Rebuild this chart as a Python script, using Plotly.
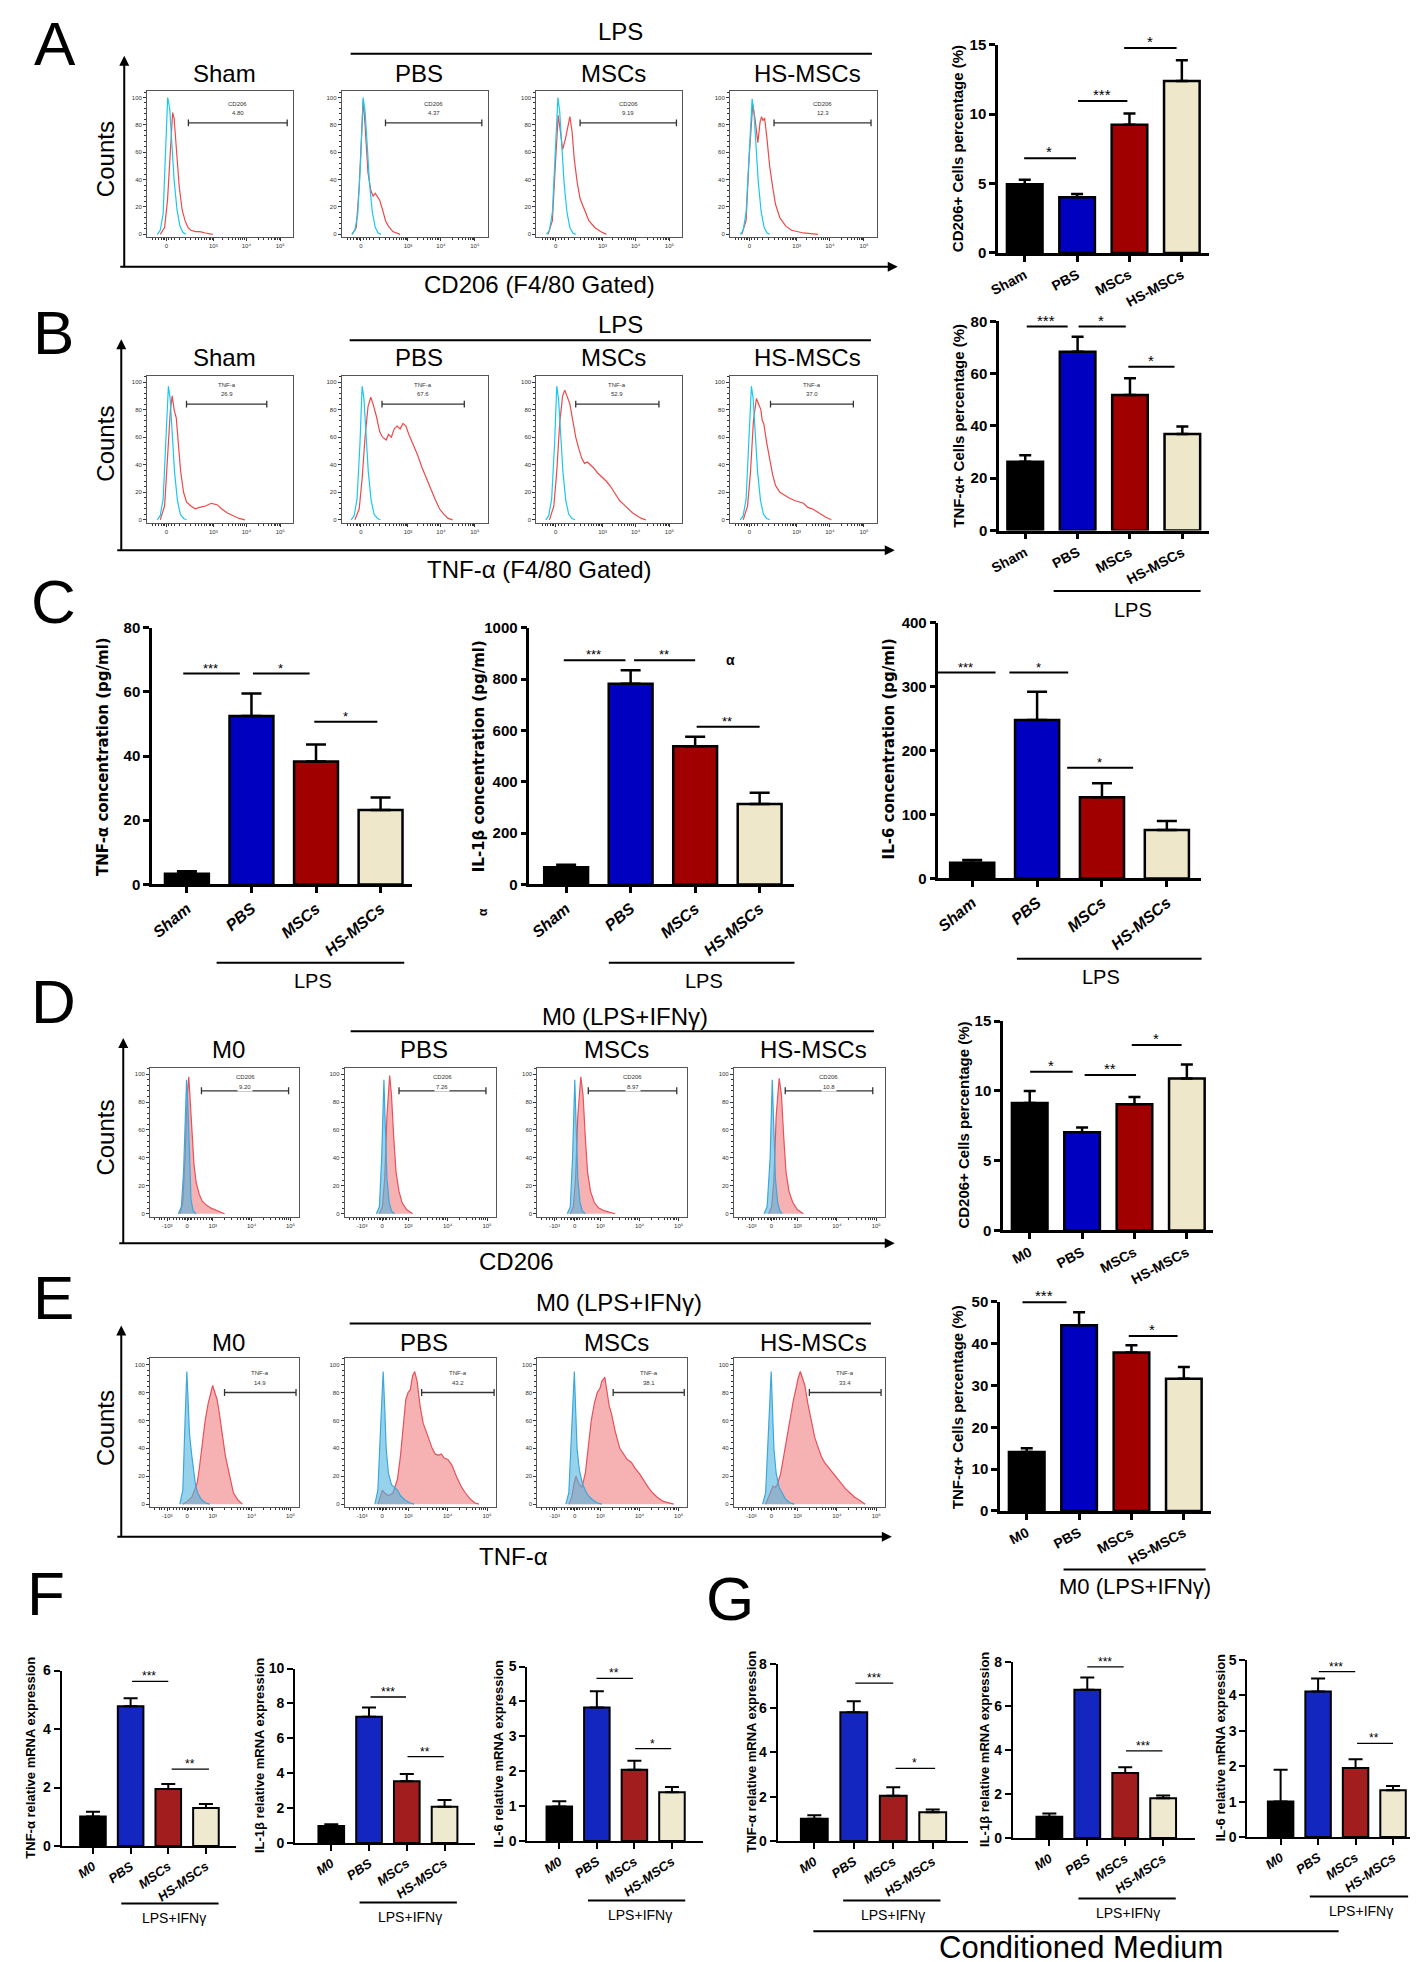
import plotly.graph_objects as go

W, H = 1418, 1962
FONT = "Liberation Sans, Arial, sans-serif"

# ---------------- bar chart data ----------------
LPS_GROUPS = ["Sham", "PBS", "MSCs", "HS-MSCs"]
M0_GROUPS = ["M0", "PBS", "MSCs", "HS-MSCs"]

# sig entries: (x start, x end, y, label) in category units / data units
a_pct = [4.95, 4.02, 9.24, 12.38]
a_err = [0.33, 0.22, 0.81, 1.50]
a_sig = [(-0.04, 0.98, 6.83, "*"), (0.99, 1.96, 10.95, "***"), (1.87, 2.9, 14.76, "*")]

b_pct = [26.3, 68.4, 51.8, 36.9]
b_err = [2.5, 5.7, 6.4, 2.9]
b_sig = [(0.0, 0.81, 78.0, "***"), (0.99, 1.92, 78.0, "*"), (1.94, 2.85, 62.6, "*")]

c_tnf = [3.3, 52.5, 38.3, 23.2]
c_tnf_err = [0.8, 7.0, 5.3, 3.9]
c_tnf_sig = [(-0.08, 0.82, 65.7, "***"), (1.0, 1.9, 65.7, "*"), (1.95, 2.95, 50.7, "*")]

c_il1b = [67, 782, 538, 313]
c_il1b_err = [10, 52, 37, 44]
c_il1b_sig = [(-0.06, 0.92, 873, "***"), (1.03, 2.0, 873, "**"), (2.0, 3.0, 614, "**")]

c_il6 = [24.7, 248, 127, 76]
c_il6_err = [4.2, 44, 22, 14]
c_il6_sig = [(-0.58, 0.36, 322, "***"), (0.55, 1.48, 322, "*"), (1.44, 2.48, 173, "*")]

d_pct = [9.14, 7.03, 9.05, 10.9]
d_err = [0.86, 0.35, 0.52, 1.0]
d_sig = [(-0.02, 0.82, 11.38, "*"), (1.02, 2.03, 11.14, "**"), (1.92, 2.9, 13.3, "*")]

e_pct = [14.1, 44.4, 37.9, 31.6]
e_err = [0.9, 3.1, 1.7, 2.8]
e_sig = [(-0.11, 0.76, 49.9, "***"), (0.97, 1.95, 50.3, "*"), (1.92, 2.88, 41.8, "*")]

f_tnf = [1.01, 4.78, 1.95, 1.30]
f_tnf_err = [0.16, 0.27, 0.17, 0.14]
f_tnf_sig = [(1.0, 2.0, 5.63, "***"), (2.05, 3.08, 2.63, "**")]
f_il1b = [0.98, 7.24, 3.54, 2.08]
f_il1b_err = [0.10, 0.53, 0.41, 0.38]
f_il1b_sig = [(1.0, 1.98, 8.37, "***"), (1.98, 2.98, 4.95, "**")]
f_il6 = [0.99, 3.83, 2.04, 1.40]
f_il6_err = [0.15, 0.46, 0.26, 0.15]
f_il6_sig = [(0.95, 1.96, 4.66, "**"), (1.98, 2.98, 2.65, "*")]

g_tnf = [1.01, 5.81, 2.04, 1.30]
g_tnf_err = [0.15, 0.49, 0.39, 0.12]
g_tnf_sig = [(1.0, 2.0, 7.12, "***"), (2.02, 3.06, 3.28, "*")]
g_il1b = [0.97, 6.73, 2.95, 1.81]
g_il1b_err = [0.14, 0.55, 0.26, 0.12]
g_il1b_sig = [(0.96, 1.96, 7.76, "***"), (1.98, 2.98, 3.95, "***")]
g_il6 = [1.00, 4.10, 1.95, 1.32]
g_il6_err = [0.90, 0.37, 0.24, 0.12]
g_il6_sig = [(0.98, 1.99, 4.66, "***"), (2.0, 3.0, 2.64, "**")]

BAR_COLORS = ["#000000", "#0000C0", "#A00000", "#EEE7CA"]
BAR_COLORS_FG = ["#000000", "#1426C0", "#A21E1E", "#EEE9CF"]

# ---------------- flow histogram data (x in display units 0-100, y in % of max) ----------------
A_SHAM_BLUE = [(7, 0), (9, 3), (11, 15), (12.5, 55), (14.1, 100), (15.5, 92), (17, 68), (18.5, 40), (20.5, 18), (22.5, 6), (24.5, 1.5), (26.5, 0)]
A_SHAM_RED = [(9, 0), (12, 5), (14, 25), (16, 65), (17.5, 89), (18.5, 85), (20, 65), (22, 35), (24, 18), (26, 10), (28, 5), (30, 3), (33, 2), (36, 2), (40, 1), (45, 0)]
A_PBS_BLUE = [(7, 0), (9, 3), (11, 15), (13, 55), (14.7, 100), (16, 90), (17.5, 65), (19, 38), (21, 16), (23, 5), (25, 1), (27, 0)]
A_PBS_RED = [(7, 0), (10, 5), (12, 35), (14, 88), (14.7, 98), (16, 80), (18, 45), (20, 32), (21.5, 28), (23, 30), (24.5, 27), (26, 25), (28, 18), (30, 10), (32, 6), (35, 2), (40, 0)]
A_MSC_BLUE = [(7, 0), (9, 3), (11, 16), (13, 58), (14.8, 100), (16, 90), (17.5, 66), (19, 38), (21, 16), (23, 5), (25, 1), (27, 0)]
A_MSC_RED = [(8, 0), (11, 10), (13, 50), (15, 87), (16.5, 75), (18, 62), (20, 70), (22, 82), (23, 86), (24.5, 75), (26, 55), (28, 38), (30, 26), (33, 18), (36, 10), (40, 5), (44, 2), (48, 0)]
A_HS_BLUE = [(7, 0), (9, 3), (11, 16), (13, 58), (15.1, 99), (16.3, 90), (17.8, 66), (19.3, 38), (21.3, 16), (23.3, 5), (25.3, 1), (27, 0)]
A_HS_RED = [(8, 0), (11, 10), (13, 55), (15.5, 95), (17, 85), (19, 67), (20.5, 82), (21.5, 86), (22.5, 83), (23.6, 85), (25, 72), (27, 50), (29, 35), (31, 22), (34, 12), (38, 6), (42, 3), (50, 1), (60, 0)]

B_SHAM_BLUE = [(7, 0), (9, 3), (11, 15), (13, 55), (14.6, 97), (15.8, 88), (17.3, 62), (18.8, 35), (20.8, 14), (22.8, 4), (25, 1), (27, 0)]
B_SHAM_RED = [(9, 0), (12, 10), (14, 45), (16, 80), (17.2, 90), (18.5, 80), (20, 74), (21.5, 55), (23, 35), (25, 20), (27, 13), (30, 10), (33, 8), (36, 9), (40, 10), (44, 12), (48, 11), (51, 8), (55, 5), (59, 3), (63, 1), (67, 0)]
B_PBS_BLUE = [(6.5, 0), (8.5, 3), (10.5, 15), (12.5, 55), (14, 97), (15.2, 88), (16.7, 62), (18.2, 35), (20.2, 14), (22.2, 4), (24.5, 1), (26.5, 0)]
B_PBS_RED = [(9, 0), (12, 8), (14, 30), (16, 60), (18, 82), (19.9, 89), (21.5, 84), (23.8, 75), (26, 64), (28, 60), (30.5, 58), (32, 62), (34, 60), (36, 66), (38, 68), (40, 66), (42, 70), (44, 68), (46, 62), (49, 55), (52, 47), (55, 38), (58, 30), (61, 22), (64, 15), (67, 8), (70, 4), (73, 1), (76, 0)]
B_MSC_BLUE = [(6.5, 0), (8.5, 3), (10.5, 15), (12.5, 55), (14, 97), (15.2, 88), (16.7, 62), (18.2, 35), (20.2, 14), (22.2, 4), (24.5, 1), (26.5, 0)]
B_MSC_RED = [(9, 0), (12, 10), (14, 35), (16, 70), (18, 90), (19.5, 94), (21, 90), (23, 84), (25, 72), (27, 60), (29, 52), (31, 45), (33, 41), (35, 42), (37, 40), (39, 38), (42, 34), (45, 31), (48, 28), (51, 24), (54, 19), (57, 14), (60, 11), (63, 8), (66, 5), (69, 3), (72, 1), (75, 0)]
B_HS_BLUE = [(7, 0), (9, 3), (11, 15), (13, 55), (14.6, 97), (15.8, 88), (17.3, 62), (18.8, 35), (20.8, 14), (22.8, 4), (25, 1), (27, 0)]
B_HS_RED = [(9, 0), (12, 10), (14, 35), (16, 72), (18, 88), (19.5, 84), (21, 80), (22, 72), (23, 70), (25, 56), (27, 45), (29, 33), (31, 25), (34, 20), (37, 18), (40, 16), (44, 14), (47, 13), (50, 12), (53, 9), (56, 8), (59, 6), (62, 4), (65, 2), (69, 0)]

D_M0_BLUE = [(19, 0), (21, 5), (22.5, 30), (23.5, 70), (24.5, 96), (25.5, 75), (26.5, 35), (27.5, 10), (29, 2), (31, 0)]
D_M0_RED = [(20, 0), (22, 8), (23.5, 40), (25, 85), (26, 98), (27, 80), (28, 55), (29.5, 35), (31, 22), (33, 14), (35, 9), (38, 6), (41, 4), (45, 2), (50, 0)]
D_PBS_BLUE = [(21, 0), (23, 5), (24.5, 40), (25.5, 85), (26, 96), (27, 60), (28, 25), (29.5, 8), (31, 2), (33, 0)]
D_PBS_RED = [(23, 0), (25, 5), (26.5, 25), (28, 70), (29.8, 99), (31, 85), (32.5, 55), (34, 30), (36, 16), (38, 8), (41, 3), (45, 0)]
D_MSC_BLUE = [(20, 0), (22, 5), (23.5, 40), (24.5, 85), (25, 96), (26, 60), (27, 25), (28.5, 8), (30, 2), (32, 0)]
D_MSC_RED = [(22, 0), (24, 5), (25.5, 25), (27, 70), (29, 98), (30.5, 85), (32, 55), (33.5, 30), (35.5, 16), (38, 8), (41, 4), (45, 2), (52, 0)]
D_HS_BLUE = [(20, 0), (22, 5), (24, 40), (25, 85), (25.4, 96), (26.5, 60), (27.5, 25), (29, 8), (30.5, 2), (32, 0)]
D_HS_RED = [(23, 0), (25, 5), (26.5, 25), (28, 70), (30, 97), (31.5, 85), (33, 55), (34.5, 30), (36.5, 16), (39, 8), (42, 3), (46, 0)]

E_M0_BLUE = [(20, 0), (22, 10), (23.5, 60), (24.7, 95), (25.5, 75), (26.5, 50), (28, 35), (29.5, 22), (30.5, 14), (32, 8), (34, 4), (37, 1), (40, 0)]
E_M0_RED = [(22, 0), (25, 2), (28, 5), (30, 10), (31.6, 15), (33, 25), (35, 45), (37, 60), (39, 72), (41, 82), (42, 85), (43.5, 80), (45, 75), (46.5, 65), (48.7, 47), (50.5, 35), (52.5, 25), (54.5, 15), (56, 8), (59, 3), (62, 0)]
E_PBS_BLUE = [(20, 0), (22, 10), (24, 60), (25.5, 95), (26.5, 70), (27.5, 40), (29, 22), (31, 14), (33, 12), (35, 10), (37, 6), (40, 3), (43, 1), (46, 0)]
E_PBS_RED = [(22, 0), (23.5, 5), (25, 10), (26.5, 8), (29, 6), (32, 8), (35, 18), (37, 35), (39, 55), (40.5, 75), (42, 80), (43.5, 82), (45, 92), (46.4, 95), (48, 88), (50, 70), (52, 58), (54, 52), (56, 45), (58, 40), (60, 36), (62, 35), (64, 36), (66, 33), (68.4, 32), (71, 28), (74, 20), (77, 13), (80, 8), (83, 4), (86, 1), (89, 0)]
E_MSC_BLUE = [(19, 0), (21, 8), (23, 55), (24.7, 95), (25.5, 70), (26.5, 40), (28, 25), (30, 15), (32, 10), (34, 6), (37, 3), (40, 1), (43, 0)]
E_MSC_RED = [(21, 0), (23, 5), (24.5, 15), (25.8, 20), (27.5, 15), (29.7, 12), (32, 22), (34, 42), (36, 60), (38, 72), (40, 80), (41.8, 83), (43, 88), (45, 91), (46.5, 82), (48, 70), (49.4, 65), (52, 52), (55, 40), (58, 35), (60, 32), (62.7, 30), (65, 26), (68, 22), (71, 17), (74, 12), (77, 8), (80, 5), (84, 2), (87.5, 1), (91, 0)]
E_HS_BLUE = [(19, 0), (21, 8), (23, 55), (24.7, 95), (25.5, 70), (26.5, 40), (28, 22), (30, 12), (32, 8), (34, 4), (37, 1), (40, 0)]
E_HS_RED = [(21, 0), (23, 5), (24.5, 10), (25.9, 13), (27.5, 12), (29, 15), (31, 22), (33.8, 40), (36, 55), (38, 68), (39.5, 75), (41, 82), (42.5, 90), (44, 95), (45.5, 90), (47, 85), (49, 72), (51, 60), (53.5, 48), (56, 40), (58, 34), (60, 30), (63, 26), (66, 22), (68.5, 19), (71.5, 15), (74, 11), (77, 8), (80, 5), (83, 3), (87, 0)]

# gates: (start, end, level, marker name, percent text)
A_GATES = [(28.3, 96, 81.5, "CD206", "4.80"), (30, 96, 81.5, "CD206", "4.37"), (30, 96, 81.5, "CD206", "9.19"), (30, 96, 81.5, "CD206", "12.3")]
B_GATES = [(27, 82, 84, "TNF-a", "26.9"), (27.6, 84, 84, "TNF-a", "67.6"), (27, 84, 84, "TNF-a", "52.9"), (27.6, 84, 84, "TNF-a", "37.0")]
D_GATES = [(34.5, 93, 88, "CD206", "9.20"), (36, 93.6, 88, "CD206", "7.26"), (34, 93, 88, "CD206", "8.97"), (34, 92, 88, "CD206", "10.8")]
E_GATES = [(50, 98, 80, "TNF-a", "14.9"), (51, 99, 80, "TNF-a", "43.2"), (50.6, 98, 80, "TNF-a", "38.1"), (50, 97.5, 80, "TNF-a", "33.4")]

LOG_TICKS = [13.2, 45.4, 68, 91.2]
LOG_TEXT = ["0", "10³", "10⁴", "10⁵"]
LOG_MINOR = [4, 6, 8, 10, 11, 12, 15, 17, 19, 22, 26, 30, 33, 35.5, 37.5, 39.5, 41, 42.5, 43.5, 44.5,
             52, 56, 58.5, 60.5, 62.5, 64, 65.3, 66.6, 76, 80, 83, 85, 87, 88.3, 89.5, 90.5]
BIEX_TICKS = [11.5, 24.9, 42.1, 68.2, 94.3]
BIEX_TEXT = ["-10³", "0", "10³", "10⁴", "10⁵"]
BIEX_MINOR = [3, 6, 8, 10, 13, 16, 18, 20, 22, 23, 24, 26, 27, 28, 30, 32, 34, 36, 38, 40, 41,
              50, 55, 58.5, 61, 63, 64.5, 65.8, 67, 76, 81, 84.5, 87, 89, 90.5, 91.8, 93]
HIST_YTICKS = [0, 20, 40, 60, 80, 100]

fig = go.Figure()
n_axes = [0]


def add_axes(x0, x1, ytop, ybot, xopts, yopts):
    n_axes[0] += 1
    s = "" if n_axes[0] == 1 else str(n_axes[0])
    fig.update_layout({
        "xaxis" + s: dict(domain=[x0 / W, x1 / W], anchor="y" + s, **xopts),
        "yaxis" + s: dict(domain=[1 - ybot / H, 1 - ytop / H], anchor="x" + s, **yopts),
    })
    return "x" + s, "y" + s


def text(x, y, t, size, angle=0, weight="normal", family=FONT, style="normal", color="black", bg=None):
    fig.add_annotation(x=x / W, y=1 - y / H, xref="paper", yref="paper", text=t, showarrow=False,
                       textangle=angle, xanchor="center", yanchor="middle", bgcolor=bg,
                       font=dict(size=size, family=family, weight=weight, style=style, color=color))


def hline(x0, x1, y, width=2):
    fig.add_shape(type="line", xref="paper", yref="paper", x0=x0 / W, x1=x1 / W,
                  y0=1 - y / H, y1=1 - y / H, line=dict(color="black", width=width))


def arrow_axes(x, ytop, ybot, xend):
    fig.add_annotation(x=x / W, y=1 - ytop / H, xref="paper", yref="paper", ax=0, ay=ybot - ytop,
                       showarrow=True, arrowhead=2, arrowsize=1, arrowwidth=2, arrowcolor="black", text="")
    fig.add_annotation(x=xend / W, y=1 - ybot / H, xref="paper", yref="paper", ax=-(xend - x), ay=0,
                       showarrow=True, arrowhead=2, arrowsize=1, arrowwidth=2, arrowcolor="black", text="")


def hist_panel(box, red, blue, gate, biex, filled, value_bg=False):
    x0, x1, ytop, ybot = box
    xo = dict(range=[0, 100], showline=True, mirror=True, linecolor="#555", linewidth=1,
              ticks="outside", ticklen=3, tickcolor="#333", tickvals=BIEX_TICKS if biex else LOG_TICKS,
              ticktext=BIEX_TEXT if biex else LOG_TEXT, tickfont=dict(size=6, family=FONT, color="#333"),
              minor=dict(tickmode="array", tickvals=BIEX_MINOR if biex else LOG_MINOR, ticklen=2, ticks="outside", tickcolor="#333"),
              showgrid=False, zeroline=False)
    yo = dict(range=[-2, 104.5], showline=True, mirror=True, linecolor="#555", linewidth=1,
              ticks="outside", ticklen=3, tickcolor="#333", tickvals=HIST_YTICKS,
              tickfont=dict(size=6, family=FONT, color="#333"),
              minor=dict(dtick=4, ticklen=2, ticks="outside", tickcolor="#333"),
              showgrid=False, zeroline=False)
    xa, ya = add_axes(x0, x1, ytop, ybot, xo, yo)
    if filled:
        styles = [(red, "#E8505A", "rgba(240,125,128,0.6)"), (blue, "#3BA8DC", "rgba(80,180,222,0.6)")]
    else:
        styles = [(red, "#F04848", None), (blue, "#18C8F0", None)]
    for pts, col, fc in styles:
        fig.add_trace(go.Scatter(x=[p[0] for p in pts], y=[p[1] for p in pts], mode="lines",
                                 line=dict(color=col, width=1.2), fill="tozeroy" if fc else "none",
                                 fillcolor=fc, xaxis=xa, yaxis=ya, showlegend=False, hoverinfo="skip"))
    g0, g1, gy, name, val = gate
    fig.add_trace(go.Scatter(x=[g0, g0, g0, g1, g1, g1], y=[gy + 2.5, gy - 2.5, gy, gy, gy + 2.5, gy - 2.5],
                             mode="lines", line=dict(color="#333", width=1.3), xaxis=xa, yaxis=ya,
                             showlegend=False, hoverinfo="skip"))
    gc = (g0 + g1) / 2
    if value_bg:
        fig.add_annotation(x=gc, y=gy + 10, xref=xa, yref=ya, text=name, showarrow=False,
                           font=dict(size=6, family=FONT, color="#333"))
        fig.add_annotation(x=gc, y=gy + 3, xref=xa, yref=ya, text=val, showarrow=False, bgcolor="white",
                           font=dict(size=6, family=FONT, color="#333"))
    else:
        fig.add_annotation(x=gc, y=gy + 14, xref=xa, yref=ya, text=name, showarrow=False,
                           font=dict(size=6, family=FONT, color="#333"))
        fig.add_annotation(x=gc, y=gy + 7, xref=xa, yref=ya, text=val, showarrow=False,
                           font=dict(size=6, family=FONT, color="#333"))


def bar_panel(box, xr, ymax, dtick, labels, vals, errs, sigs, colors, sty):
    x0, x1, ytop, ybot = box
    xo = dict(range=xr, tickvals=[0, 1, 2, 3], ticktext=labels, tickangle=sty["angle"],
              tickfont=dict(size=sty["tsize"], family=FONT, weight="bold", style=sty["tstyle"], color="black"),
              showline=True, linecolor="black", linewidth=sty["lw"], ticks="outside", ticklen=6,
              tickwidth=sty["lw"], tickcolor="black", showgrid=False, zeroline=False)
    yo = dict(range=[0, ymax], dtick=dtick, tick0=0, showline=True, linecolor="black", linewidth=sty["lw"],
              ticks="outside", ticklen=6, tickwidth=sty["lw"], tickcolor="black",
              tickfont=dict(size=sty["ysize"], family=FONT, weight="bold", color="black"),
              showgrid=False, zeroline=False)
    xa, ya = add_axes(x0, x1, ytop, ybot, xo, yo)
    fig.add_trace(go.Bar(x=[0, 1, 2, 3], y=vals, width=0.68, xaxis=xa, yaxis=ya, showlegend=False,
                         marker=dict(color=colors, line=dict(color="black", width=sty["lw"])),
                         error_y=dict(type="data", array=errs, arrayminus=[0, 0, 0, 0], symmetric=False,
                                      color="black", thickness=sty["lw"], width=sty["cap"])))
    for s0, s1, sy, lab in sigs:
        fig.add_annotation(x=s1, y=sy, ax=s0, ay=sy, xref=xa, yref=ya, axref=xa, ayref=ya, text="",
                           showarrow=True, arrowhead=0, arrowwidth=sty["slw"], arrowcolor="black",
                           standoff=0, startstandoff=0)
        fig.add_annotation(x=(s0 + s1) / 2, y=sy, xref=xa, yref=ya, text=lab, showarrow=False,
                           yanchor="bottom", yshift=-4, font=dict(size=sty["ssize"], family=FONT, color="black"))


STY_MAIN = dict(angle=-28, tsize=14, tstyle="normal", ysize=15, lw=2.5, cap=6, slw=2, ssize=15)
STY_C = dict(angle=-40, tsize=16, tstyle="italic", ysize=15, lw=2.5, cap=10, slw=2, ssize=13)
STY_FG = dict(angle=-35, tsize=13, tstyle="italic", ysize=14, lw=2, cap=7, slw=1.3, ssize=12)

# ---------------- panels A, B, D, E histograms ----------------
HBOX_AB = [(130, 277), (326, 473), (522, 669), (717, 865)]
HBOX_DE = [(133, 283), (329, 481), (523, 674), (721, 873)]

for (hx0, hx1), red, blue, gate in zip(HBOX_AB, [A_SHAM_RED, A_PBS_RED, A_MSC_RED, A_HS_RED],
                                         [A_SHAM_BLUE, A_PBS_BLUE, A_MSC_BLUE, A_HS_BLUE], A_GATES):
    hist_panel((hx0, hx1, 75, 222), red, blue, gate, False, False)
for (hx0, hx1), red, blue, gate in zip(HBOX_AB, [B_SHAM_RED, B_PBS_RED, B_MSC_RED, B_HS_RED],
                                         [B_SHAM_BLUE, B_PBS_BLUE, B_MSC_BLUE, B_HS_BLUE], B_GATES):
    hist_panel((hx0, hx1, 362, 510), red, blue, gate, False, False)
for (hx0, hx1), red, blue, gate in zip(HBOX_DE, [D_M0_RED, D_PBS_RED, D_MSC_RED, D_HS_RED],
                                         [D_M0_BLUE, D_PBS_BLUE, D_MSC_BLUE, D_HS_BLUE], D_GATES):
    hist_panel((hx0, hx1, 1060, 1210), red, blue, gate, True, True, value_bg=True)
for (hx0, hx1), red, blue, gate in zip(HBOX_DE, [E_M0_RED, E_PBS_RED, E_MSC_RED, E_HS_RED],
                                         [E_M0_BLUE, E_PBS_BLUE, E_MSC_BLUE, E_HS_BLUE], E_GATES):
    hist_panel((hx0, hx1, 1353, 1503), red, blue, gate, True, True)

for names, boxes, ysub in ((LPS_GROUPS, HBOX_AB, 57), (LPS_GROUPS, HBOX_AB, 343),
                           (M0_GROUPS, HBOX_DE, 1042), (M0_GROUPS, HBOX_DE, 1337)):
    for nm, (hx0, hx1) in zip(names, boxes):
        text((hx0 + hx1) / 2 + 4, ysub, nm, 24)

text(607, 15, "LPS", 24)
hline(335, 860, 37)
text(607, 310, "LPS", 24)
hline(334, 859, 326)
text(611, 1008, "M0 (LPS+IFNγ)", 24)
hline(335, 862, 1023)
text(605, 1297, "M0 (LPS+IFNγ)", 24)
hline(334, 859, 1318)

arrow_axes(107, 39, 252, 886)
arrow_axes(104, 325, 538, 883)
arrow_axes(106, 1030, 1237, 883)
arrow_axes(104, 1320, 1533, 880)
for yc in (143, 430, 1130, 1423):
    text(88, yc, "Counts", 24, angle=-90)
text(525, 270, "CD206 (F4/80 Gated)", 24)
text(525, 557, "TNF-α (F4/80 Gated)", 24)
text(502, 1255, "CD206", 24)
text(499, 1553, "TNF-α", 24)

# ---------------- bar panels ----------------
bar_panel((987, 1199, 28, 238), [-0.51, 3.51], 15, 5, LPS_GROUPS, a_pct, a_err, a_sig, BAR_COLORS, STY_MAIN)
text(947, 133, "CD206+ Cells percentage (%)", 15, angle=-90, weight="bold")

bar_panel((988, 1199, 307, 518), [-0.5, 3.5], 80, 20, LPS_GROUPS, b_pct, b_err, b_sig, BAR_COLORS, STY_MAIN)
text(947, 412, "TNF-α+ Cells percentage (%)", 15, angle=-90, weight="bold")
hline(1043, 1191, 579)
text(1123, 598, "LPS", 20)

bar_panel((135, 397, 616, 875), [-0.54, 3.49], 80, 20, LPS_GROUPS, c_tnf, c_tnf_err, c_tnf_sig, BAR_COLORS, STY_C)
bar_panel((515, 782, 616, 875), [-0.57, 3.54], 1000, 200, LPS_GROUPS, c_il1b, c_il1b_err, c_il1b_sig, BAR_COLORS, STY_C)
bar_panel((927, 1191, 611, 869), [-0.52, 3.52], 400, 100, LPS_GROUPS, c_il6, c_il6_err, c_il6_sig, BAR_COLORS, STY_C)
text(85, 746, "TNF-α concentration (pg/ml)", 15, angle=-90, weight="bold", family="DejaVu Sans")
text(464, 746, "IL-1β concentration (pg/ml)", 15, angle=-90, weight="bold", family="DejaVu Sans")
text(877, 738, "IL-6 concentration (pg/ml)", 15, angle=-90, weight="bold", family="DejaVu Sans")
text(718, 649, "α", 14, weight="bold")
text(468, 903, "α", 12, angle=-90, weight="bold")
hline(200, 389, 954)
text(297, 972, "LPS", 20)
hline(595, 782, 954)
text(691, 972, "LPS", 20)
hline(1006, 1192, 950)
text(1091, 968, "LPS", 20)

bar_panel((992, 1203, 1013, 1224), [-0.51, 3.49], 15, 5, M0_GROUPS, d_pct, d_err, d_sig, BAR_COLORS, STY_MAIN)
text(952, 1118, "CD206+ Cells percentage (%)", 15, angle=-90, weight="bold")

bar_panel((989, 1201, 1296, 1507), [-0.51, 3.51], 50, 10, M0_GROUPS, e_pct, e_err, e_sig, BAR_COLORS, STY_MAIN)
text(947, 1402, "TNF-α+ Cells percentage (%)", 15, angle=-90, weight="bold")
hline(1053, 1196, 1566)
text(1125, 1583, "M0 (LPS+IFNγ)", 22)

bar_panel((44, 220, 1668, 1845), [-0.83, 3.81], 6, 2, M0_GROUPS, f_tnf, f_tnf_err, f_tnf_sig, BAR_COLORS_FG, STY_FG)
bar_panel((279, 460, 1666, 1842), [-0.96, 3.80], 10, 2, M0_GROUPS, f_il1b, f_il1b_err, f_il1b_sig, BAR_COLORS_FG, STY_FG)
bar_panel((513, 690, 1664, 1840), [-0.85, 3.83], 5, 1, M0_GROUPS, f_il6, f_il6_err, f_il6_sig, BAR_COLORS_FG, STY_FG)
bar_panel((765, 957, 1661, 1840), [-0.93, 3.9], 8, 2, M0_GROUPS, g_tnf, g_tnf_err, g_tnf_sig, BAR_COLORS_FG, STY_FG)
bar_panel((1002, 1185, 1659, 1837), [-0.96, 3.83], 8, 2, M0_GROUPS, g_il1b, g_il1b_err, g_il1b_sig, BAR_COLORS_FG, STY_FG)
bar_panel((1238, 1415, 1657, 1836), [-0.89, 3.8], 5, 1, M0_GROUPS, g_il6, g_il6_err, g_il6_sig, BAR_COLORS_FG, STY_FG)

for xc, yc, t in ((13, 1756, "TNF-α relative mRNA expression"), (244, 1754, "IL-1β relative mRNA expression"),
                  (484, 1752, "IL-6 relative mRNA expression"), (739, 1750, "TNF-α relative mRNA expression"),
                  (974, 1748, "IL-1β relative mRNA expression"), (1211, 1746, "IL-6 relative mRNA expression")):
    text(xc, yc, t, 13, angle=-90, weight="bold")

for lx0, lx1, ly, tx in ((104, 202, 1903, 157), (344, 442, 1902, 395), (574, 672, 1900, 626),
                         (831, 929, 1900, 881), (1068, 1166, 1898, 1118), (1301, 1400, 1896, 1353)):
    hline(lx0, lx1, ly)
    text(tx, ly + 15, "LPS+IFNγ", 14)
hline(801, 1330, 1931)
text(1071, 1947, "Conditioned Medium", 31)

# ---------------- panel letters ----------------
for lt, lx, ly in (("A", 37, 27), ("B", 36, 318), ("C", 36, 590), ("D", 36, 993),
                   ("E", 36, 1292), ("F", 28, 1590), ("G", 717, 1595)):
    text(lx, ly, lt, 62)

fig.update_layout(width=W, height=H, margin=dict(l=0, r=0, t=0, b=0),
                  paper_bgcolor="white", plot_bgcolor="white", showlegend=False,
                  font=dict(family=FONT, color="black"))
fig.write_html("out.html")
